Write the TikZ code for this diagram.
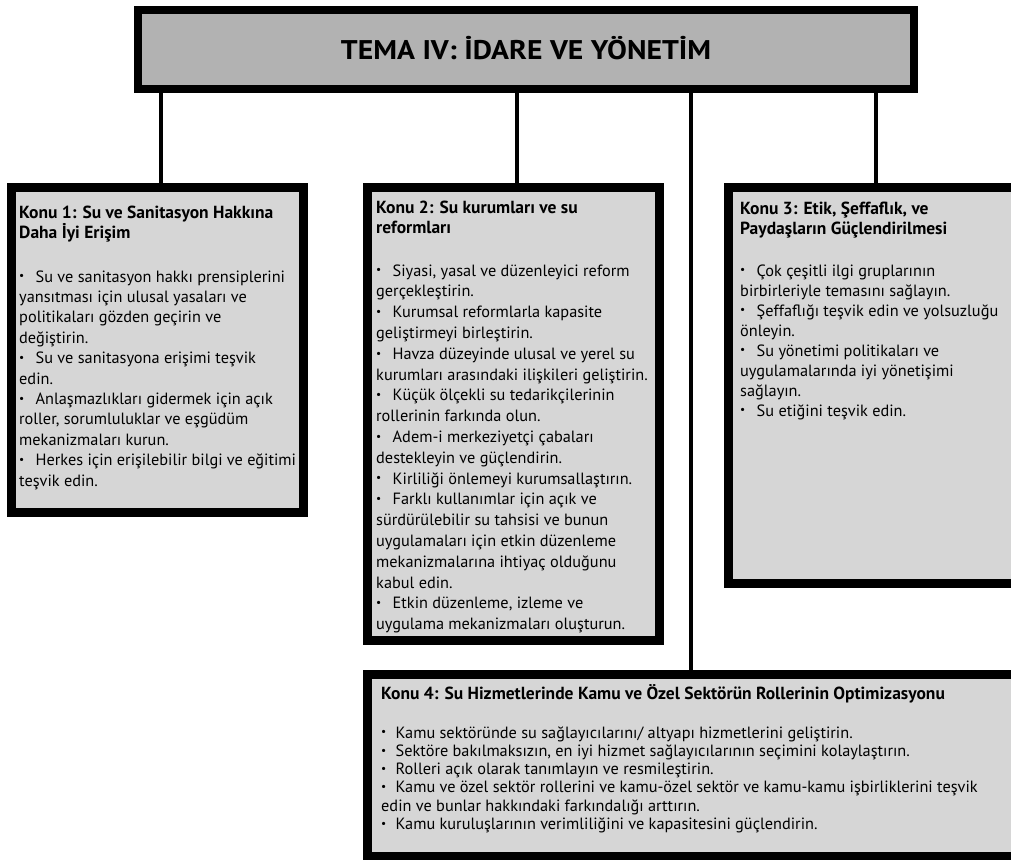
\documentclass[tikz,border=0pt]{standalone}
\usepackage{fontspec}
\setmainfont{PT Sans}
\usepackage{graphicx}
\definecolor{titlegray}{gray}{0.70}
\definecolor{boxgray}{gray}{0.84}
\newlength\bulw
\setlength\bulw{16.5pt}
\newcommand\bul{\makebox[\bulw][l]{\raisebox{0.25ex}{\scalebox{0.7}{\textbullet}}}}
\newcommand\lns[1]{\vtop{\lineskiplimit=-100pt\let\\\cr\halign{##\hfil\cr#1\crcr}}}
\begin{document}
\begin{tikzpicture}[x=1pt,y=-1pt,
  frame/.style={draw=black, inner sep=0pt, line width=9pt, fill=boxgray},
  conn/.style={draw=black, line width=3.8pt},
  txt/.style={inner sep=0pt, anchor=base west, font=\fontsize{16.3}{20.6}\selectfont},
  ttl/.style={inner sep=0pt, anchor=base west, font=\bfseries\fontsize{17.5}{20}\selectfont}
]
\useasboundingbox (0,0) rectangle (1011,859);
\clip (0,0) rectangle (1011,859);
% boxes
\node[frame, fill=titlegray, line width=8pt, minimum width=776pt, minimum height=79pt] (title) at (526,49.5) {};
\node[frame, minimum width=292pt, minimum height=325pt] (box1) at (157.5,350) {};
\node[frame, minimum width=292pt, minimum height=453pt] (box2) at (513.5,414) {};
\node[frame, minimum width=292pt, minimum height=396pt] (box3) at (874.5,385.5) {};
\node[frame, minimum width=658pt, minimum height=182pt] (box4) at (696.5,765.5) {};
% connectors
\coordinate (k1) at (161,0);
\coordinate (k2) at (517,0);
\coordinate (k4) at (691,0);
\coordinate (k3) at (876,0);
\draw[conn] (k1 |- title.south) -- (k1 |- box1.north);
\draw[conn] (k2 |- title.south) -- (k2 |- box2.north);
\draw[conn] (k4 |- title.south) -- (k4 |- box4.north);
\draw[conn] (k3 |- title.south) -- (k3 |- box3.north);
% title text
\node[inner sep=0pt, anchor=base, font=\bfseries\fontsize{27}{27}\selectfont] (tt) at (526,59.5) {\scalebox{1.1}[1]{TEMA IV: İDARE VE YÖNETİM}};
% box 1
\node[ttl] (h1) at (19,218) {\lns{Konu 1: Su ve Sanitasyon Hakkına\\Daha İyi Erişim}};
\node[txt, font=\fontsize{16.3}{20.4}\selectfont] (b1) at (19,282) {\lns{%
\bul Su ve sanitasyon hakkı prensiplerini\\
yansıtması için ulusal yasaları ve\\
politikaları gözden geçirin ve\\
değiştirin.\\
\bul Su ve sanitasyona erişimi teşvik\\
edin.\\
\bul Anlaşmazlıkları gidermek için açık\\
roller, sorumluluklar ve eşgüdüm\\
mekanizmaları kurun.\\
\bul Herkes için erişilebilir bilgi ve eğitimi\\
teşvik edin.}};
% box 2
\node[ttl] (h2) at (376,213) {\lns{Konu 2: Su kurumları ve su\\reformları}};
\node[txt, font=\fontsize{16.3}{20.8}\selectfont] (b2) at (376,276) {\lns{%
\bul Siyasi, yasal ve düzenleyici reform\\
gerçekleştirin.\\
\bul Kurumsal reformlarla kapasite\\
geliştirmeyi birleştirin.\\
\bul Havza düzeyinde ulusal ve yerel su\\
kurumları arasındaki ilişkileri geliştirin.\\
\bul Küçük ölçekli su tedarikçilerinin\\
rollerinin farkında olun.\\
\bul Adem-i merkeziyetçi çabaları\\
destekleyin ve güçlendirin.\\
\bul Kirliliği önlemeyi kurumsallaştırın.\\
\bul Farklı kullanımlar için açık ve\\
sürdürülebilir su tahsisi ve bunun\\
uygulamaları için etkin düzenleme\\
mekanizmalarına ihtiyaç olduğunu\\
kabul edin.\\
\bul Etkin düzenleme, izleme ve\\
uygulama mekanizmaları oluşturun.}};
% box 3
\node[ttl] (h3) at (740,214) {\lns{Konu 3: Etik, Şeffaflık, ve\\Paydaşların Güçlendirilmesi}};
\node[txt, font=\fontsize{16.3}{20}\selectfont] (b3) at (740,276) {\lns{%
\bul Çok çeşitli ilgi gruplarının\\
birbirleriyle temasını sağlayın.\\
\bul Şeffaflığı teşvik edin ve yolsuzluğu\\
önleyin.\\
\bul Su yönetimi politikaları ve\\
uygulamalarında iyi yönetişimi\\
sağlayın.\\
\bul Su etiğini teşvik edin.}};
% box 4
\node[ttl] (h4) at (381,699) {Konu 4: Su Hizmetlerinde Kamu ve Özel Sektörün Rollerinin Optimizasyonu};
\node[txt, font=\fontsize{16.3}{18.3}\selectfont] (b4) at (381,738) {\setlength\bulw{14.5pt}\lns{%
\bul Kamu sektöründe su sağlayıcılarını/ altyapı hizmetlerini geliştirin.\\
\bul Sektöre bakılmaksızın, en iyi hizmet sağlayıcılarının seçimini kolaylaştırın.\\
\bul Rolleri açık olarak tanımlayın ve resmileştirin.\\
\bul Kamu ve özel sektör rollerini ve kamu-özel sektör ve kamu-kamu işbirliklerini teşvik\\
edin ve bunlar hakkındaki farkındalığı arttırın.\\
\bul Kamu kuruluşlarının verimliliğini ve kapasitesini güçlendirin.}};
\end{tikzpicture}
\end{document}
